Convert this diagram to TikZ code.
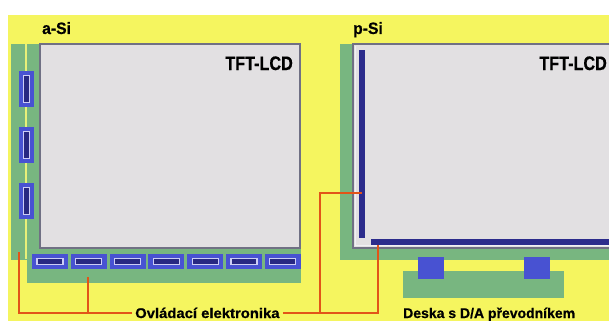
\documentclass[tikz,border=0pt]{standalone}
\usepackage{fontspec}
\setmainfont{Liberation Sans}
\newfontfamily\labfont[FakeBold=0.6]{Liberation Sans}
\definecolor{bgyellow}{RGB}{245,245,95}
\definecolor{pcbgreen}{RGB}{120,182,128}
\definecolor{panelgray}{RGB}{226,224,226}
\definecolor{panelborder}{RGB}{112,112,132}
\definecolor{panelinner}{RGB}{240,240,244}
\definecolor{chipblue}{RGB}{72,82,210}
\definecolor{chipdark}{RGB}{40,40,130}
\definecolor{chiplight}{RGB}{205,205,245}
\definecolor{navybar}{RGB}{44,44,140}
\definecolor{wireorange}{RGB}{226,84,24}
\definecolor{traceyellow}{RGB}{232,240,120}
\begin{document}
\begin{tikzpicture}[x=1pt,y=-1pt,
  panelbox/.style={fill=panelgray,draw=panelborder,line width=1.2pt},
  chipouter/.style={fill=chipblue},
  chipinner/.style={fill=chipdark,draw=chiplight,line width=1.1pt},
  wire/.style={draw=wireorange,line width=1.5pt},
  lab/.style={inner sep=0pt,font=\labfont\bfseries}]
\useasboundingbox (0,0) rectangle (609,321);
\clip (0,0) rectangle (609,321);
\fill[white] (0,0) rectangle (609,321);
\fill[bgyellow] (8,15) rectangle (609,321);
% ---- a-Si ----
\fill[pcbgreen] (11,44) rectangle (40,260);
\fill[pcbgreen] (27,248) rectangle (301,283);
\draw[traceyellow,line width=1.1pt] (26,44) -- (26,259);
\draw[panelbox] (40,44) rectangle (300,248);
\foreach \yy in {71,127,183}{
  \fill[chipouter] (19,\yy) rectangle (34,\yy+36);
  \draw[chipinner] (23.5,\yy+4.5) rectangle (29.5,\yy+31.5);
}
\foreach \i in {0,...,6}{
  \pgfmathsetmacro\xx{32+38.8*\i}
  \fill[chipouter] (\xx,254) rectangle (\xx+36,269);
  \draw[chipinner] (\xx+5,258.5) rectangle (\xx+31,264.5);
}
\node[lab,font=\labfont\bfseries\fontsize{16.5}{16.5}\selectfont,anchor=base west] (asi) at (42,34) {\scalebox{0.95}[1]{a-Si}};
\node[lab,font=\labfont\bfseries\fontsize{19.5}{19.5}\selectfont,anchor=base east] (tftl) at (293,70) {\scalebox{0.83}[1]{TFT-LCD}};
% ---- p-Si ----
\fill[pcbgreen] (340,44) rectangle (609,260);
\draw[panelbox] (353,44) rectangle (612,248);
\draw[panelinner,line width=1.5pt] (355.5,46.5) -- (355.5,245.5) -- (612,245.5);
\fill[navybar] (359,50) rectangle (365,238);
\fill[navybar] (371,239) rectangle (612,245);
\fill[pcbgreen] (403,271) rectangle (564,298);
\fill[chipblue] (418,257) rectangle (444,279);
\fill[chipblue] (524,257) rectangle (550,279);
\node[lab,font=\labfont\bfseries\fontsize{16.5}{16.5}\selectfont,anchor=base west] (psi) at (353,34) {\scalebox{0.95}[1]{p-Si}};
\node[lab,font=\labfont\bfseries\fontsize{19.5}{19.5}\selectfont,anchor=base east] (tftr) at (607,70) {\scalebox{0.83}[1]{TFT-LCD}};
% ---- labels and wires ----
\node[lab,font=\labfont\bfseries\fontsize{14}{14}\selectfont,anchor=base west] (ovl) at (135,318) {\scalebox{1.06}[1]{Ovládací elektronika}};
\node[lab,font=\labfont\bfseries\fontsize{14}{14}\selectfont,anchor=base west] (desk) at (403,318) {Deska s D/A převodníkem};
\coordinate (la) at (19,252);
\coordinate (lb) at (88,277);
\coordinate (rk) at (320,193);
\coordinate (rb) at (362,193);
\coordinate (rc) at (378,245);
\draw[wire] ([xshift=-3pt]ovl.west) -| (la);
\draw[wire] (lb) -- (lb |- ovl.west);
\draw[wire] ([xshift=3pt]ovl.east) -| (rc);
\draw[wire] (rb) -- (rk) -- (rk |- ovl.east);
\end{tikzpicture}
\end{document}
